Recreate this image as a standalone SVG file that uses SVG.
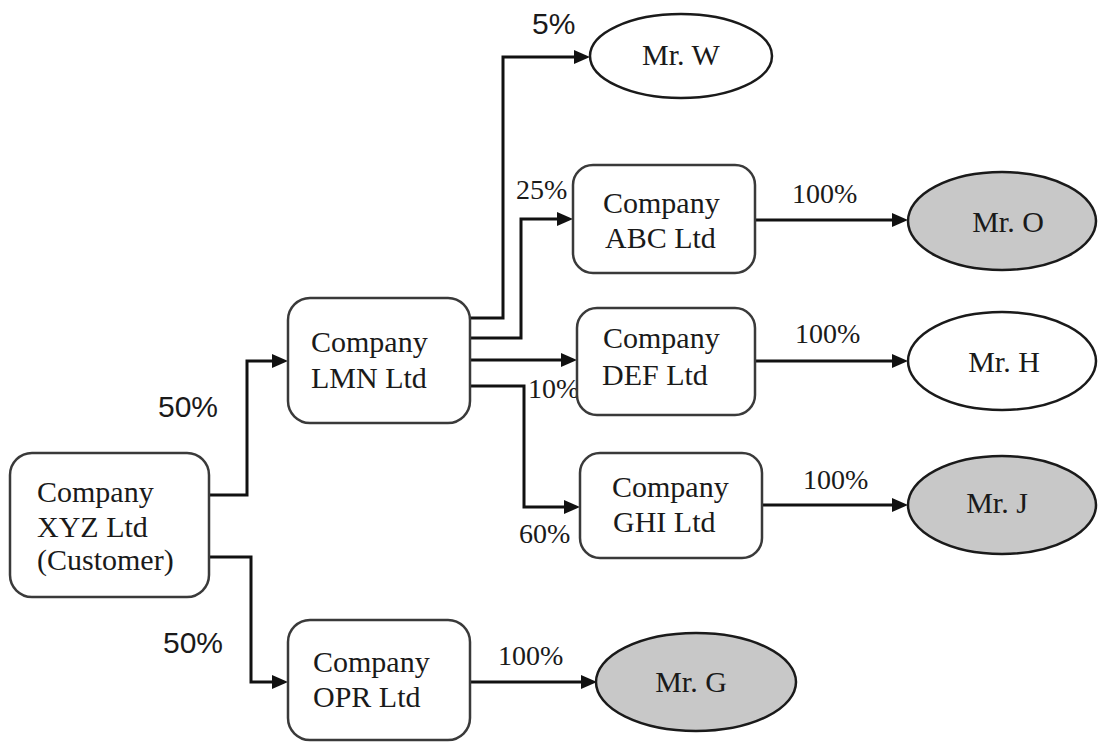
<svg xmlns="http://www.w3.org/2000/svg" width="1098" height="744" viewBox="0 0 1098 744">
  <style>
    .box { fill: #ffffff; stroke: #3a3a3a; stroke-width: 2.5; }
    .person { stroke: #1a1a1a; stroke-width: 2.5; }
    .owner { fill: #c8c8c8; }
    .plain { fill: #ffffff; }
    .label { font-family: "Liberation Serif", "Times New Roman", serif; font-size: 30px; fill: #1a1a1a; }
    .pct { font-family: "Liberation Serif", "Times New Roman", serif; font-size: 28px; fill: #1a1a1a; }
    .pct-sans { font-family: "Liberation Sans", Arial, sans-serif; font-size: 30px; fill: #1a1a1a; }
    .link { fill: none; stroke: #111111; stroke-width: 3; }
  </style>
  <defs>
    <marker id="arrow" markerUnits="userSpaceOnUse" markerWidth="18" markerHeight="16" refX="8" refY="7" orient="auto">
      <path d="M0,0 L16,7 L0,14 z" fill="#111111"/>
    </marker>
  </defs>

  <rect width="1098" height="744" fill="#ffffff"/>

  <!-- ownership links -->
  <g id="connectors">
    <path class="link" d="M209,495 H247 V361 H280" marker-end="url(#arrow)"/>
    <path class="link" d="M209,557 H251 V682 H280" marker-end="url(#arrow)"/>
    <path class="link" d="M470,318 H503 V57 H582" marker-end="url(#arrow)"/>
    <path class="link" d="M470,338 H521 V219 H565" marker-end="url(#arrow)"/>
    <path class="link" d="M470,360 H569" marker-end="url(#arrow)"/>
    <path class="link" d="M470,386 H524 V507 H572" marker-end="url(#arrow)"/>
    <path class="link" d="M755,220 H900" marker-end="url(#arrow)"/>
    <path class="link" d="M755,361 H900" marker-end="url(#arrow)"/>
    <path class="link" d="M762,505 H900" marker-end="url(#arrow)"/>
    <path class="link" d="M470,682 H589" marker-end="url(#arrow)"/>

    <text class="pct-sans" x="158" y="417">50%</text>
    <text class="pct-sans" x="163" y="653">50%</text>
    <text class="pct-sans" x="532" y="34">5%</text>
    <text class="pct" x="516" y="199">25%</text>
    <text class="pct" x="528" y="398">10%</text>
    <text class="pct" x="519" y="543">60%</text>
    <text class="pct" x="792" y="203">100%</text>
    <text class="pct" x="795" y="343">100%</text>
    <text class="pct" x="803" y="489">100%</text>
    <text class="pct" x="498" y="665">100%</text>
  </g>

  <g id="xyz">
    <rect class="box" x="10" y="453" width="199" height="144" rx="22"/>
    <text class="label" x="37" y="502">Company</text>
    <text class="label" x="37" y="537">XYZ Ltd</text>
    <text class="label" x="37" y="570">(Customer)</text>
  </g>

  <g id="lmn">
    <rect class="box" x="288" y="298" width="182" height="125" rx="22"/>
    <text class="label" x="311" y="352">Company</text>
    <text class="label" x="311" y="388">LMN Ltd</text>
  </g>

  <g id="opr">
    <rect class="box" x="288" y="620" width="182" height="120" rx="22"/>
    <text class="label" x="313" y="672">Company</text>
    <text class="label" x="313" y="707">OPR Ltd</text>
  </g>

  <g id="abc">
    <rect class="box" x="573" y="165" width="182" height="108" rx="20"/>
    <text class="label" x="603" y="213">Company</text>
    <text class="label" x="605" y="248">ABC Ltd</text>
  </g>

  <g id="def">
    <rect class="box" x="577" y="308" width="178" height="107" rx="20"/>
    <text class="label" x="603" y="348">Company</text>
    <text class="label" x="602" y="385">DEF Ltd</text>
  </g>

  <g id="ghi">
    <rect class="box" x="580" y="453" width="182" height="105" rx="20"/>
    <text class="label" x="612" y="497">Company</text>
    <text class="label" x="613" y="532">GHI Ltd</text>
  </g>

  <g id="mr-w">
    <ellipse class="person plain" cx="681" cy="56" rx="91" ry="42"/>
    <text class="label" x="681" y="65" text-anchor="middle">Mr. W</text>
  </g>

  <g id="mr-o">
    <ellipse class="person owner" cx="1002" cy="221" rx="94" ry="49"/>
    <text class="label" x="1008" y="232" text-anchor="middle">Mr. O</text>
  </g>

  <g id="mr-h">
    <ellipse class="person plain" cx="1002" cy="361" rx="94" ry="49"/>
    <text class="label" x="1004" y="372" text-anchor="middle">Mr. H</text>
  </g>

  <g id="mr-j">
    <ellipse class="person owner" cx="1002" cy="505" rx="94" ry="49"/>
    <text class="label" x="997" y="513" text-anchor="middle">Mr. J</text>
  </g>

  <g id="mr-g">
    <ellipse class="person owner" cx="696" cy="682" rx="100" ry="49"/>
    <text class="label" x="691" y="692" text-anchor="middle">Mr. G</text>
  </g>
</svg>
